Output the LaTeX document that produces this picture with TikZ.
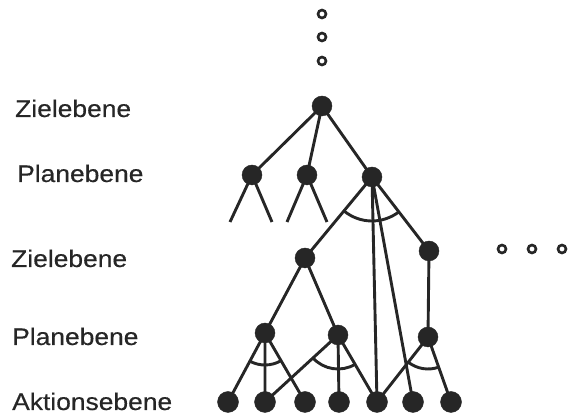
\documentclass[tikz,border=0pt]{standalone}
\usepackage{fontspec}
\newfontfamily\lab{Liberation Sans}[FakeStretch=1.1,FakeBold=0.4]
\usetikzlibrary{calc}
\definecolor{ink}{HTML}{262626}
\tikzset{
  dot/.style={circle,fill=ink,draw=ink,inner sep=0pt,minimum size=20pt},
  odot/.style={circle,draw=ink,line width=2.6pt,fill=white,inner sep=0pt,minimum size=8pt},
  edge/.style={draw=ink,line width=2.9pt},
  lvl/.style={anchor=base west,inner sep=0pt,text=ink,font=\lab\fontsize{24}{28}\selectfont}
}
\newcommand{\andarc}[4]{%
  \draw[edge] let \p1=($(#2)-(#1)$), \p2=($(#3)-(#1)$),
    \n1={atan2(\y1,\x1)}, \n2={atan2(\y2,\x2)} in
    ($(#1)+(\n1:#4)$) arc[start angle=\n1, end angle=\n2, radius=#4];}
\begin{document}
\begin{tikzpicture}[x=1pt,y=1pt]
\useasboundingbox (0,0) rectangle (571,420);
% labels
\node[lvl] (l1) at (15,303) {Zielebene};
\node[lvl] (l2) at (17,238) {Planebene};
\node[lvl] (l3) at (11,153) {Zielebene};
\node[lvl] (l4) at (12,75) {Planebene};
\node[lvl] (l5) at (12,10) {Aktionsebene};
% coordinates
\coordinate (R) at (322,314);
\coordinate (A) at (252,245);
\coordinate (B) at (307,245);
\coordinate (C) at (372,243);
\coordinate (a1) at (230,198);
\coordinate (a2) at (272,198);
\coordinate (bb1) at (287,198);
\coordinate (bb2) at (327,198);
\coordinate (D) at (305,162);
\coordinate (E) at (429,169);
\coordinate (F) at (265,87);
\coordinate (G) at (338,85);
\coordinate (H) at (428,83);
\coordinate (b1) at (228,18);
\coordinate (b2) at (265,18);
\coordinate (b3) at (305,18);
\coordinate (b4) at (339,18);
\coordinate (b5) at (377,18);
\coordinate (b6) at (413,18);
\coordinate (b7) at (451,18);
% edges
\draw[edge] (R)--(A) (R)--(B) (R)--(C);
\draw[edge] (A)--(a1) (A)--(a2) (B)--(bb1) (B)--(bb2);
\draw[edge] (C)--(D) (C)--(E) (C)--(b5) (C)--(b6);
\draw[edge] (D)--(F) (D)--(G) (E)--(H);
\draw[edge] (F)--(b1) (F)--(b2) (F)--(b3);
\draw[edge] (G)--(b2) (G)--(b4) (G)--(b5);
\draw[edge] (H)--(b5) (H)--(b7);
\andarc{C}{D}{E}{44}
\andarc{F}{b1}{b3}{32}
\andarc{G}{b2}{b5}{34}
\andarc{H}{b5}{b7}{32}
% nodes
\foreach \n in {R,A,B,C,D,E,F,G,H} \node[dot] (n\n) at (\n) {};
\foreach \n in {b1,b2,b3,b4,b5,b6,b7} \node[dot,minimum size=21pt] (n\n) at (\n) {};
% open dots
\node[odot] (o1) at (322,406) {};
\node[odot] (o2) at (322,383) {};
\node[odot] (o3) at (322,359) {};
\node[odot] (o4) at (502,171) {};
\node[odot] (o5) at (532,171) {};
\node[odot] (o6) at (562,171) {};
\end{tikzpicture}
\end{document}
